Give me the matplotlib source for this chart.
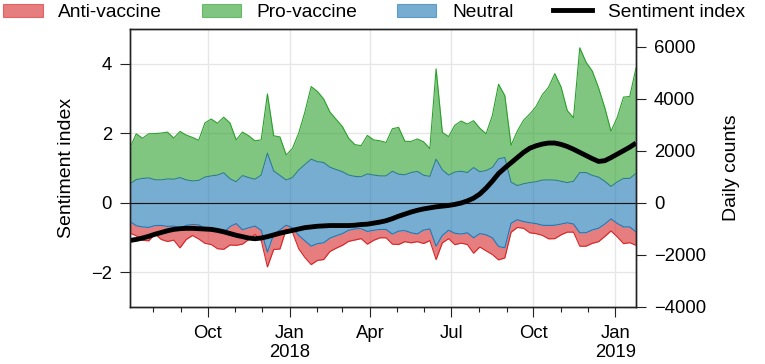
import numpy as np
import pandas as pd
import matplotlib
matplotlib.use('Agg')
import matplotlib.pyplot as plt
import matplotlib.dates as mdates
from matplotlib.patches import Patch
from matplotlib.lines import Line2D

plt.rcParams['font.family'] = ['Liberation Sans', 'DejaVu Sans']
plt.rcParams['axes.unicode_minus'] = True

# weekly samples
dates = pd.date_range('2017-07-06', periods=82, freq='7D')

pro = [1389, 1762, 1544, 1698, 1775, 1801, 1801, 1582, 1775, 1724,
       1672, 1544, 2084, 2187, 1994, 2135, 2148, 1608, 1672, 1608,
       1479, 1351, 2277, 1351, 1479, 965, 1119, 1415, 2020, 2791,
       2701, 2444, 2123, 1930, 1737, 1415, 1222, 1196, 1479, 1351,
       1351, 1286, 1634, 1801, 1286, 1196, 1248, 1286, 1068, 3473,
       1441, 1479, 1801, 1930, 1865, 1801, 1672, 1415, 1994, 2869,
       2380, 1415, 2097, 2444, 2637, 2894, 3280, 3563, 4091, 3628,
       2766, 2444, 4798, 4245, 4014, 3435, 2830, 2123, 2483, 3126,
       3152, 4052]

neutral = [1441, 1775, 1865, 1904, 1762, 1750, 1827, 1801, 1930, 1750,
           1672, 1711, 1968, 2058, 2123, 2303, 1840, 1608, 2084, 1930,
           1801, 2123, 3808, 2444, 2097, 1737, 1930, 2508, 2933, 3345,
           3152, 3087, 2727, 2547, 2380, 2123, 2020, 1994, 2213, 2123,
           2058, 2058, 2418, 2187, 2148, 2316, 2406, 2110, 2020, 3345,
           2521, 2123, 2354, 2418, 2316, 2701, 2380, 2470, 2701, 3370,
           3473, 1582, 1312, 1454, 1544, 1608, 1737, 1750, 1737, 1647,
           1544, 1647, 2316, 2316, 2097, 1968, 1647, 1248, 1595, 1865,
           1865, 2251]

anti = [450, 386, 515, 515, 322, 540, 579, 540, 772, 540,
        425, 540, 579, 579, 708, 643, 708, 836, 553, 450,
        322, 386, 566, 579, 733, 154, 167, 515, 643, 708,
        643, 643, 515, 476, 450, 425, 425, 386, 489, 386,
        322, 322, 386, 515, 425, 386, 296, 515, 450, 515,
        283, 322, 437, 347, 450, 592, 515, 617, 643, 515,
        386, 347, 296, 257, 386, 386, 386, 515, 515, 412,
        360, 309, 515, 515, 515, 515, 476, 463, 515, 643,
        605, 515]

sentiment = [-1.09, -1.06, -1.02, -0.97, -0.91, -0.86, -0.81, -0.77, -0.75, -0.74,
             -0.74, -0.75, -0.76, -0.77, -0.80, -0.84, -0.89, -0.94, -0.98, -1.02,
             -1.04, -1.02, -0.98, -0.93, -0.88, -0.84, -0.80, -0.76, -0.72, -0.70,
             -0.68, -0.67, -0.66, -0.66, -0.66, -0.66, -0.65, -0.63, -0.62, -0.59,
             -0.56, -0.52, -0.46, -0.39, -0.33, -0.27, -0.22, -0.18, -0.15, -0.12,
             -0.10, -0.08, -0.05, -0.01, 0.05, 0.13, 0.25, 0.42, 0.62, 0.84,
             1.00, 1.15, 1.30, 1.45, 1.57, 1.64, 1.69, 1.72, 1.72, 1.68,
             1.62, 1.54, 1.45, 1.36, 1.27, 1.19, 1.21, 1.30, 1.40, 1.50,
             1.60, 1.72]

left_lim = (-3, 5)
right_lim = (-4000, 6666.67)
scale = right_lim[1] / left_lim[1]   # counts per sentiment unit

P = np.array(pro) / scale
N = np.array(neutral) / scale
A = np.array(anti) / scale

c_green, c_blue, c_red = '#2ca02c', '#1f77b4', '#d62728'

fig = plt.figure(figsize=(7.65, 3.64), dpi=100)
ax = fig.add_axes([0.16993, 0.15742, 0.66144, 0.7621])

ax.fill_between(dates, N / 2, N / 2 + P, color=c_green, alpha=0.6, lw=0, zorder=2)
ax.fill_between(dates, -N / 2, N / 2, color=c_blue, alpha=0.6, lw=0, zorder=2)
ax.fill_between(dates, -N / 2 - A, -N / 2, color=c_red, alpha=0.6, lw=0, zorder=2)
ax.plot(dates, N / 2 + P, color=c_green, lw=0.8, zorder=3)
ax.plot(dates, N / 2, color='#2a7f8f', lw=0.8, zorder=3)
ax.plot(dates, -N / 2, color=c_blue, lw=0.8, zorder=3)
ax.plot(dates, -N / 2 - A, color=c_red, lw=0.8, zorder=3)
ax.axhline(0, color='#111111', lw=0.8, zorder=4)
ax.plot(dates, sentiment, color='black', lw=3.5, zorder=5, solid_capstyle='butt')

ax.set_xlim(dates[0], dates[-1])
ax.set_ylim(*left_lim)
ax.set_yticks([-2, 0, 2, 4])
ax.set_axisbelow(True)
ax.grid(True, color='#e6e6e6', lw=1)

ax.xaxis.set_major_locator(mdates.MonthLocator(bymonth=[1, 4, 7, 10]))
ax.xaxis.set_minor_locator(mdates.MonthLocator())


def fmt(x, pos=None):
    d = mdates.num2date(x)
    s = d.strftime('%b')
    if d.month == 1:
        s += '\n' + d.strftime('%Y')
    return s


ax.xaxis.set_major_formatter(plt.FuncFormatter(fmt))
ax.set_ylabel('Sentiment index', fontsize=14)
ax.yaxis.set_label_coords(-0.1087, 0.5)

ax2 = ax.twinx()
ax2.set_ylim(*right_lim)
ax2.set_yticks([-4000, -2000, 0, 2000, 4000, 6000])
ax2.set_ylabel('Daily counts', fontsize=14)
ax2.yaxis.set_label_coords(1.172, 0.5)

for a in (ax, ax2):
    a.tick_params(which='major', direction='out', length=7, width=0.8,
                  labelsize=13.3, color='#222222', pad=6)
    a.tick_params(which='minor', direction='out', length=3.8, width=0.8, color='#222222')
    for s in a.spines.values():
        s.set_color('#222222')
        s.set_linewidth(1.0)

handles = [Patch(facecolor=c_red, alpha=0.6, edgecolor=c_red, lw=0.8),
           Patch(facecolor=c_green, alpha=0.6, edgecolor=c_green, lw=0.8),
           Patch(facecolor=c_blue, alpha=0.6, edgecolor=c_blue, lw=0.8),
           Line2D([0], [0], color='black', lw=3.5)]
labels = ['Anti-vaccine', 'Pro-vaccine', 'Neutral', 'Sentiment index']
fig.legend(handles, labels, loc='upper left', bbox_to_anchor=(0.004, 0.99), ncol=4,
           frameon=False, fontsize=13.8, handlelength=2.06, handleheight=0.7,
           handletextpad=0.82, columnspacing=2.05, borderaxespad=0.0, borderpad=0.0)

fig.savefig('out.png', dpi=100)
